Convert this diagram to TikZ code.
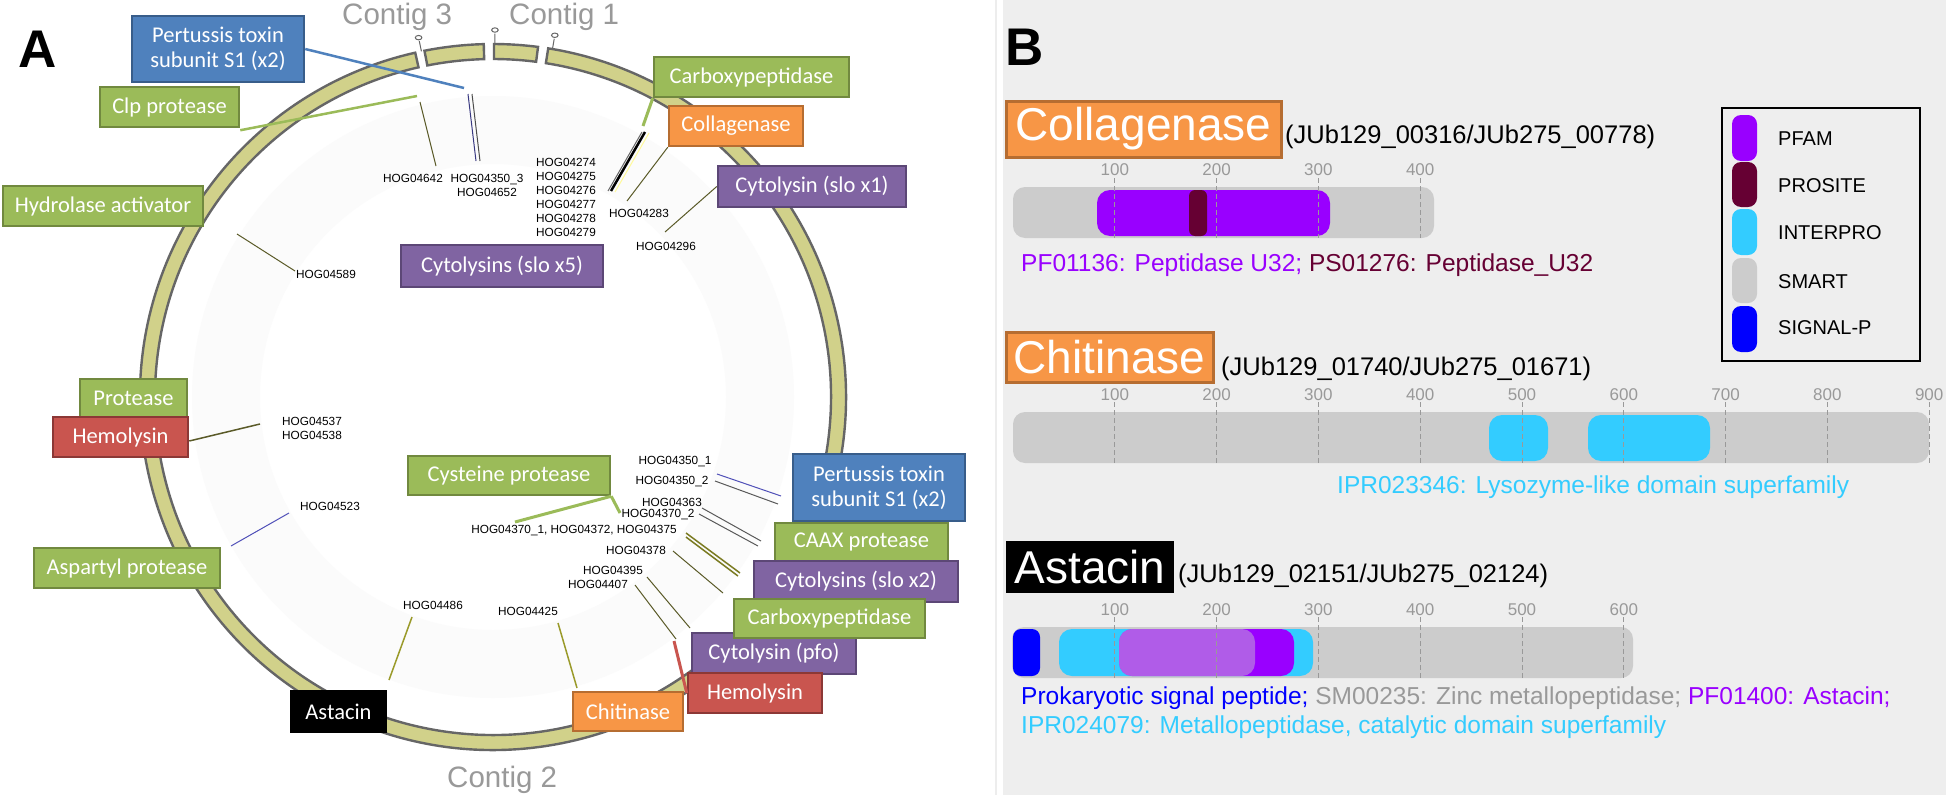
\documentclass[tikz,border=0pt]{standalone}
\usepackage{fontspec}
\setmainfont{Liberation Sans}
\newfontfamily\calib{Carlito}
\usetikzlibrary{calc}
\definecolor{ogreen}{HTML}{9BBB59}\definecolor{ogreenD}{HTML}{71893F}
\definecolor{oblue}{HTML}{4F81BD}\definecolor{oblueD}{HTML}{385D8A}
\definecolor{opurp}{HTML}{8064A2}\definecolor{opurpD}{HTML}{5C4776}
\definecolor{oorange}{HTML}{F79646}\definecolor{oorangeD}{HTML}{B66D31}
\definecolor{ored}{HTML}{C9554F}\definecolor{oredD}{HTML}{8C3836}
\definecolor{ringf}{HTML}{D1D18A}\definecolor{ringd}{HTML}{666666}
\definecolor{olv}{HTML}{5A5A28}\definecolor{olvl}{HTML}{9A9A2A}
\definecolor{bln}{HTML}{5050B8}
\definecolor{pfam}{HTML}{9900FF}\definecolor{prosite}{HTML}{660033}
\definecolor{interpro}{HTML}{33CCFF}\definecolor{smart}{HTML}{CCCCCC}
\definecolor{sigp}{HTML}{0000FF}\definecolor{bgB}{HTML}{EEEEEE}
\definecolor{tickg}{HTML}{999999}\definecolor{contg}{HTML}{999999}
\begin{document}
\begin{tikzpicture}[x=1pt,y=-1pt,
  lab/.style={draw, line width=2.5pt, inner sep=0pt, text=white, align=center, font=\calib\fontsize{22.5}{25}\selectfont},
  gbox/.style={lab, fill=ogreen, draw=ogreenD},
  bbox/.style={lab, fill=oblue, draw=oblueD},
  pbox/.style={lab, fill=opurp, draw=opurpD},
  obox/.style={lab, fill=oorange, draw=oorangeD},
  rbox/.style={lab, fill=ored, draw=oredD},
  kbox/.style={lab, fill=black, draw=black},
  hog/.style={inner sep=0pt, align=center, font=\fontsize{11.8}{14}\selectfont},
  hl/.style={line width=1pt, draw=olv},
  ringst/.style={fill=ringf, draw=ringd, line width=2.4pt, line join=miter},
  mk/.style={draw=ringd, line width=1pt},
  contig/.style={anchor=base west, text=contg, inner sep=0pt, font=\fontsize{29.5}{30}\selectfont},
  panel/.style={anchor=base west, inner sep=0pt, font=\bfseries\fontsize{53}{53}\selectfont},
  big/.style={inner sep=0pt, text=white, font=\fontsize{46}{46}\selectfont},
  idtxt/.style={anchor=base west, inner sep=0pt, font=\fontsize{25.5}{26}\selectfont},
  ann/.style={anchor=west, inner sep=0pt, align=left, font=\fontsize{24.5}{29}\selectfont},
  tk/.style={draw=tickg, line width=1pt, dash pattern=on 5pt off 3pt},
  tl/.style={inner sep=0pt, text=tickg, font=\fontsize{17}{17}\selectfont},
  lg/.style={anchor=west, inner sep=0pt, font=\fontsize{20}{20}\selectfont}
]
\useasboundingbox (0,0) rectangle (1946,795);
\fill[white] (0,0) rectangle (1946,795);
% ---------------- Panel A ----------------
\node[panel] (labA) at (18,67) {A};
\coordinate (rc) at (493,397);
\fill[black!1.5, even odd rule] (rc) circle[radius=301] (rc) circle[radius=233];
% ring pieces
\filldraw[ringst] ($(rc)+(-102.73:353)$) arc[start angle=-102.73, end angle=-441.0, radius=353] -- ($(rc)+(-441.0:338)$) arc[start angle=-441.0, end angle=-102.73, radius=338] -- cycle;
\filldraw[ringst] ($(rc)+(-101.2:353)$) arc[start angle=-101.2, end angle=-91.5, radius=353] -- ($(rc)+(-91.5:338)$) arc[start angle=-91.5, end angle=-101.2, radius=338] -- cycle;
\filldraw[ringst] ($(rc)+(-89.83:353)$) arc[start angle=-89.83, end angle=-82.67, radius=353] -- ($(rc)+(-82.67:338)$) arc[start angle=-82.67, end angle=-89.83, radius=338] -- cycle;
% markers
\foreach \a in {-101.7,-89.7,-80.3}{
  \draw[mk] ($(rc)+(\a:353)$) -- ($(rc)+(\a:363.5)$);
  \draw[mk, fill=white] ($(rc)+(\a:367)$) ellipse[x radius=3.3pt, y radius=2.2pt];
}
\node[contig] (c3) at (342,24) {Contig 3};
\node[contig] (c1) at (509,24) {Contig 1};
\node[contig] (c2) at (447,787) {Contig 2};
% HOG labels
\node[hog] (h4642) at (413,178) {HOG04642};
\node[hog] (h4350c) at (487,185) {HOG04350\_3\\HOG04652};
\node[hog, align=left] (h4274) at (566,197) {HOG04274\\HOG04275\\HOG04276\\HOG04277\\HOG04278\\HOG04279};
\node[hog] (h4283) at (639,213) {HOG04283};
\node[hog] (h4296) at (666,246) {HOG04296};
\node[hog] (h4589) at (326,274) {HOG04589};
\node[hog] (h4537) at (312,428) {HOG04537\\HOG04538};
\node[hog] (h4523) at (330,506) {HOG04523};
\node[hog] (h4350a) at (675,462) {HOG04350\_1};
\node[hog] (h4350b) at (672,482) {HOG04350\_2};
\node[hog] (h4363) at (672,502) {HOG04363};
\node[hog] (h4370b) at (658,515) {HOG04370\_2};
\node[hog] (h4370a) at (574,531) {HOG04370\_1, HOG04372, HOG04375};
\node[hog] (h4378) at (636,550) {HOG04378};
\node[hog] (h4395) at (613,570) {HOG04395};
\node[hog] (h4407) at (598,584) {HOG04407};
\node[hog] (h4425) at (528,611) {HOG04425};
\node[hog] (h4486) at (433,605) {HOG04486};
% connector end points
\coordinate (e1) at (464,88);
\coordinate (e2) at (417,96);
\coordinate (e3a) at (420,102); \coordinate (e3b) at (436,166);
\coordinate (e4a) at (468,94); \coordinate (e4b) at (476,161);
\coordinate (e5a) at (472,94); \coordinate (e5b) at (480,161);
\coordinate (e6) at (643,126);
\coordinate (e7a) at (645,132); \coordinate (e7b) at (611,191);
\coordinate (e8) at (627,201);
\coordinate (e9) at (665,232);
\coordinate (e10a) at (237,234); \coordinate (e10b) at (295,271);
\coordinate (e11) at (260,424);
\coordinate (e12a) at (289,513); \coordinate (e12b) at (231,546);
\coordinate (e13) at (515,522); \coordinate (e14) at (620,513);
\coordinate (e15a) at (717,474); \coordinate (e15b) at (781,496);
\coordinate (e16a) at (715,481); \coordinate (e16b) at (778,504);
\coordinate (e17a) at (702,508); \coordinate (e17b) at (761,541);
\coordinate (e18a) at (699,514); \coordinate (e18b) at (758,546);
\coordinate (e19a) at (686,533); \coordinate (e19b) at (740,573);
\coordinate (e20a) at (686,537); \coordinate (e20b) at (738,576);
\coordinate (e21a) at (673,551); \coordinate (e21b) at (723,593);
\coordinate (e22a) at (647,577); \coordinate (e22b) at (690,628);
\coordinate (e23a) at (635,585); \coordinate (e23b) at (676,639);
\coordinate (e24) at (674,641);
\coordinate (e25a) at (558,623); \coordinate (e25b) at (577,688);
\coordinate (e26a) at (412,617); \coordinate (e26b) at (389,680);
% boxes (positions from measured corners)
\node[bbox, minimum width=172pt, minimum height=66pt] (ptA) at (218,49) {Pertussis toxin\\subunit S1 (x2)};
\node[gbox, minimum width=139pt, minimum height=40pt] (clp) at (169.5,107) {Clp protease};
\node[gbox, minimum width=200pt, minimum height=40pt] (hyd) at (103,206) {Hydrolase activator};
\node[gbox, minimum width=195pt, minimum height=40pt] (carbA) at (751.5,77) {Carboxypeptidase};
\node[obox, minimum width=134pt, minimum height=40pt] (collA) at (736,126) {Collagenase};
\node[pbox, minimum width=188pt, minimum height=41pt] (cytA) at (812,186.5) {Cytolysin (slo x1)};
\node[pbox, minimum width=202pt, minimum height=42pt] (cyt5) at (502,266) {Cytolysins (slo x5)};
\node[gbox, minimum width=107pt, minimum height=39pt] (prot) at (133.5,398.5) {Protease};
\node[rbox, minimum width=135pt, minimum height=40pt] (hemA) at (120.5,437) {Hemolysin};
\node[gbox, minimum width=202pt, minimum height=39pt] (cys) at (509,475.5) {Cysteine protease};
\node[gbox, minimum width=186pt, minimum height=40pt] (asp) at (127,568) {Aspartyl protease};
\node[bbox, minimum width=172pt, minimum height=67pt] (ptB) at (879,487.5) {Pertussis toxin\\subunit S1 (x2)};
\node[gbox, minimum width=173pt, minimum height=39pt] (caax) at (861.5,542.5) {CAAX protease};
\node[pbox, minimum width=204pt, minimum height=41pt] (cyt2) at (856,581.5) {Cytolysins (slo x2)};
\node[pbox, minimum width=164pt, minimum height=41pt] (pfo) at (774,653.5) {Cytolysin (pfo)};
\node[gbox, minimum width=191pt, minimum height=39pt] (carbB) at (829.5,618.5) {Carboxypeptidase};
\node[rbox, minimum width=134pt, minimum height=40pt] (hemB) at (755,693) {Hemolysin};
\node[obox, minimum width=110pt, minimum height=39pt] (chit) at (628,711.5) {Chitinase};
\node[kbox, minimum width=95pt, minimum height=41pt] (ast) at (338.5,711.5) {Astacin};
% connectors
\draw[oblue, line width=2.5pt] (ptA.east) -- (e1);
\draw[ogreen, line width=2.5pt] ([yshift=-2pt]clp.south east) -- (e2);
\draw[hl] (e3a) -- (e3b);
\draw[line width=1pt, draw=bln!70!black] (e4a) -- (e4b);
\draw[line width=1pt, draw=black!70] (e5a) -- (e5b);
\draw[ogreen, line width=3pt] (carbA.south west) -- (e6);
\draw[line width=2.5pt, black] (e7a) -- (e7b);
\draw[line width=1pt, yellow!40] ($(e7a)+(4,1)$) -- ($(e7b)+(4,1)$);
\draw[line width=1pt, black!60] ($(e7a)+(-3,0)$) -- ($(e7b)+(-3,0)$);
\draw[hl] (collA.south west) -- (e8);
\draw[hl] (cytA.west) -- (e9);
\draw[hl] (e10a) -- (e10b);
\draw[line width=1.5pt, olv] ([yshift=-4pt]hemA.east) -- (e11);
\draw[line width=1pt, bln] (e12a) -- (e12b);
\draw[ogreen, line width=3pt] (cys.south east) -- (e13);
\draw[ogreen, line width=3pt] (cys.south east) -- (e14);
\draw[line width=1pt, bln] (e15a) -- (e15b);
\draw[line width=1pt, black!65] (e16a) -- (e16b);
\draw[line width=1pt, black!65] (e17a) -- (e17b);
\draw[line width=1pt, black!65] (e18a) -- (e18b);
\draw[line width=1.5pt, olvl!80!black] (e19a) -- (e19b);
\draw[line width=1.5pt, olvl!80!black] (e20a) -- (e20b);
\draw[hl] (e21a) -- (e21b);
\draw[hl] (e22a) -- (e22b);
\draw[hl] (e23a) -- (e23b);
\draw[ored, line width=3pt] (hemB.west) -- (e24);
\draw[line width=1.5pt, olvl] (e25a) -- (e25b);
\draw[line width=1.5pt, olvl] (e26a) -- (e26b);
% ---------------- Panel B ----------------
\fill[bgB] (1003,0) rectangle (1946,795);
\draw[black!7, line width=2pt] (996,0) -- (996,795);
\node[panel] (labB) at (1005,65) {B};
% Collagenase
\node[big, fill=oorange, draw=oorangeD, line width=3pt, minimum width=275pt, minimum height=56pt] (bColl) at (1143.5,129) {Collagenase};
\node[idtxt] (idColl) at (1285,143) {(JUb129\_00316/JUb275\_00778)};
\fill[smart, rounded corners=12pt] (1013,187) rectangle (1434,238);
\fill[pfam, rounded corners=13pt] (1097,190) rectangle (1330,236);
\fill[prosite, rounded corners=6pt] (1189,190) rectangle (1207,236);
\foreach \i in {1,...,4}{
  \draw[tk] ({1013+101.8*\i},178) -- ({1013+101.8*\i},238);
  \node[tl] at ({1013+101.8*\i},170) {\i00};
}
\node[ann] (aColl) at (1021,265) {{\color{pfam}PF01136: Peptidase U32;} {\color{prosite}PS01276: Peptidase\_U32}};
% Chitinase
\node[big, fill=oorange, draw=oorangeD, line width=3pt, minimum width=207pt, minimum height=50pt] (bChit) at (1109.5,357) {Chitinase};
\node[idtxt] (idChit) at (1221,375) {(JUb129\_01740/JUb275\_01671)};
\fill[smart, rounded corners=12pt] (1013,412) rectangle (1929,463);
\fill[interpro, rounded corners=13pt] (1489,415) rectangle (1548,461);
\fill[interpro, rounded corners=13pt] (1588,415) rectangle (1710,461);
\foreach \i in {1,...,9}{
  \draw[tk] ({1013+101.8*\i},402) -- ({1013+101.8*\i},463);
  \node[tl] at ({1013+101.8*\i},395) {\i00};
}
\node[ann, text=interpro] (aChit) at (1337,487) {IPR023346: Lysozyme-like domain superfamily};
% Astacin
\node[big, fill=black, minimum width=168pt, minimum height=52pt] (bAst) at (1090,567) {Astacin};
\node[idtxt] (idAst) at (1178,582) {(JUb129\_02151/JUb275\_02124)};
\fill[smart, rounded corners=12pt] (1012,627) rectangle (1633,678);
\fill[sigp, rounded corners=8pt] (1013,629) rectangle (1040,676);
\fill[interpro, rounded corners=13pt] (1059,629) rectangle (1313,676);
\fill[pfam, rounded corners=13pt] (1119,629) rectangle (1294,676);
\fill[smart, opacity=0.45, rounded corners=13pt] (1119,629) rectangle (1255,676);
\foreach \i in {1,...,6}{
  \draw[tk] ({1013+101.8*\i},617) -- ({1013+101.8*\i},678);
  \node[tl] at ({1013+101.8*\i},610) {\i00};
}
\node[ann] (aAst1) at (1021,698) {{\color{sigp}Prokaryotic signal peptide;} {\color{tickg}SM00235: Zinc metallopeptidase;} {\color{pfam}PF01400: Astacin;}};
\node[ann, text=interpro] (aAst2) at (1021,727) {IPR024079: Metallopeptidase, catalytic domain superfamily};
% Legend
\draw[black, line width=1.5pt] (1722,108) rectangle (1920,361);
\fill[pfam, rounded corners=9pt] (1732,115) rectangle (1757,161);
\fill[prosite, rounded corners=9pt] (1732,162) rectangle (1757,207);
\fill[interpro, rounded corners=9pt] (1732,209) rectangle (1757,255);
\fill[smart, rounded corners=9pt] (1732,258) rectangle (1757,303);
\fill[sigp, rounded corners=9pt] (1732,306) rectangle (1757,352);
\node[lg] (lg1) at (1778,139) {PFAM};
\node[lg] (lg2) at (1778,186) {PROSITE};
\node[lg] (lg3) at (1778,233) {INTERPRO};
\node[lg] (lg4) at (1778,282) {SMART};
\node[lg] (lg5) at (1778,328) {SIGNAL-P};
\end{tikzpicture}
\end{document}
